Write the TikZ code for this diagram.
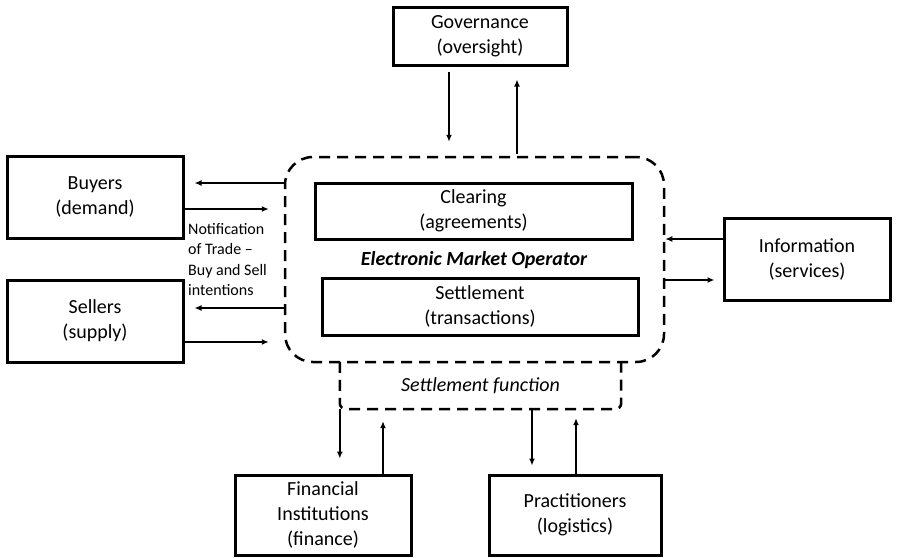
\documentclass[tikz,border=0pt]{standalone}
\usepackage{fontspec}
\setmainfont{Carlito}
\usetikzlibrary{arrows.meta}

\tikzset{
  solidbox/.style={draw, line width=3pt, align=center, inner sep=0pt,
    font=\fontsize{20}{25}\selectfont},
  dashbox/.style={draw, line width=2.5pt, dash pattern=on 11pt off 7pt},
  arr/.style={line width=1.5pt, -{Latex[length=7pt,width=6pt]}},
  lbl/.style={inner sep=0pt, align=center}
}

\begin{document}
\begin{tikzpicture}[x=1pt, y=-1pt]
  \useasboundingbox (0,0) rectangle (897,557);

  % operator frame and its inner functions
  \node[dashbox, rounded corners=28pt, minimum width=379pt, minimum height=205pt]
    (emo) at (474.5,259.5) {};
  \node[solidbox, minimum width=317pt, minimum height=56pt] (clear) at (473.5,211)
    {Clearing\\(agreements)};
  \node[solidbox, minimum width=316pt, minimum height=57pt] (settle) at (480,306.5)
    {Settlement\\(transactions)};
  \node[lbl, font=\fontsize{20}{24}\selectfont\bfseries\itshape] (emolbl) at (474,260)
    {Electronic Market Operator};

  % settlement function tab hanging below the frame
  \node[minimum width=281pt, minimum height=47pt, inner sep=0pt,
        font=\fontsize{20}{24}\selectfont\itshape] (sf) at (480.5,385.5)
    {Settlement function};
  \draw[line width=2.5pt, dash pattern=on 11pt off 7pt, rounded corners=6pt]
    (sf.north west) -- (sf.south west) -- (sf.south east) -- (sf.north east);

  % surrounding parties
  \node[solidbox, minimum width=174pt, minimum height=58pt] (gov) at (480,36)
    {Governance\\(oversight)};
  \node[solidbox, minimum width=176pt, minimum height=82pt] (buy) at (95,197)
    {Buyers\\(demand)};
  \node[solidbox, minimum width=176pt, minimum height=82pt] (sell) at (95,321)
    {Sellers\\(supply)};
  \node[solidbox, minimum width=166pt, minimum height=82pt] (info) at (807,259)
    {Information\\(services)};
  \node[solidbox, minimum width=176pt, minimum height=80pt] (fin) at (323,515)
    {Financial\\Institutions\\(finance)};
  \node[solidbox, minimum width=172pt, minimum height=80pt] (prac) at (575,515)
    {Practitioners\\(logistics)};

  \node[lbl, anchor=north west, align=left, font=\fontsize{16}{20.5}\selectfont]
    (note) at (188,223) {Notification\\of Trade --\\Buy and Sell\\intentions};

  % governance links
  \draw[arr, shorten <=5pt, shorten >=14pt]
    ([xshift=-31pt]gov.south) -- ([xshift=-31pt]gov.south |- emo.north);
  \draw[arr, shorten <=2pt, shorten >=13pt]
    ([xshift=37pt]gov.south |- emo.north) -- ([xshift=37pt]gov.south);

  % buyers and sellers
  \draw[arr, shorten >=10pt]
    ([yshift=14pt]buy.east -| emo.west) -- ([yshift=14pt]buy.east);
  \draw[arr, shorten >=15pt]
    ([yshift=-12pt]buy.east) -- ([yshift=-12pt]buy.east -| emo.west);
  \draw[arr, shorten >=10pt]
    ([yshift=13pt]sell.east -| emo.west) -- ([yshift=13pt]sell.east);
  \draw[arr, shorten >=15pt]
    ([yshift=-21pt]sell.east) -- ([yshift=-21pt]sell.east -| emo.west);

  % information services
  \draw[arr] ([yshift=20pt]info.west) -- ([yshift=20pt]info.west -| emo.east);
  \draw[arr, shorten >=8pt]
    ([yshift=-21pt]info.west -| emo.east) -- ([yshift=-21pt]info.west);

  % finance and logistics
  \draw[arr, shorten >=15pt]
    (sf.south west) -- (sf.south west |- fin.north);
  \draw[arr, shorten >=12pt]
    ([xshift=60pt]fin.north) -- ([xshift=60pt]fin.north |- sf.south);
  \draw[arr, shorten >=8pt]
    ([xshift=-43pt]prac.north |- sf.south) -- ([xshift=-43pt]prac.north);
  \draw[arr, shorten >=9pt]
    ([xshift=1pt]prac.north) -- ([xshift=1pt]prac.north |- sf.south);
\end{tikzpicture}
\end{document}
